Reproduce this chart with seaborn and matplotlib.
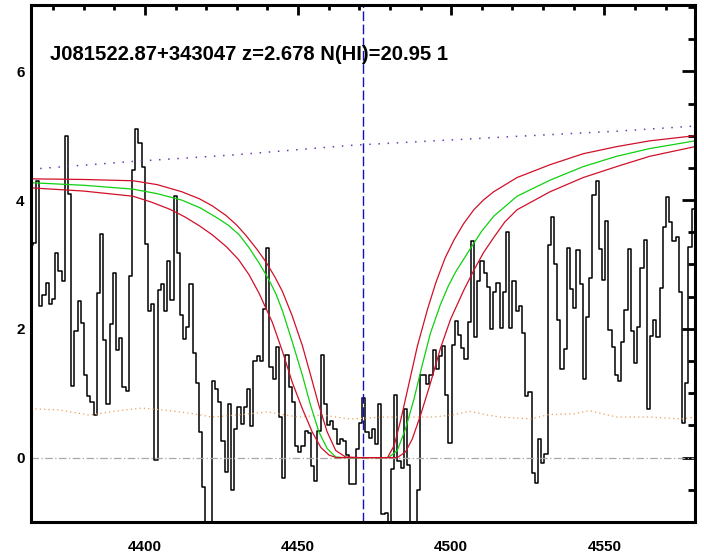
import numpy as np
import seaborn as sns
import matplotlib.pyplot as plt
from matplotlib.ticker import MultipleLocator

flux = [3.30, 3.33, 4.29, 2.35, 2.53, 2.71, 2.38, 2.47, 3.18, 2.90,
        2.75, 5.00, 4.10, 1.11, 1.96, 2.43, 2.09, 1.29, 0.96, 0.86,
        0.66, 2.56, 3.48, 1.82, 0.84, 2.07, 2.87, 1.67, 1.86, 1.09,
        1.03, 2.82, 4.47, 5.10, 4.89, 4.51, 3.32, 2.28, 2.39, -0.04,
        2.61, 2.70, 2.28, 3.06, 2.45, 4.07, 3.18, 2.22, 1.85, 2.03,
        2.69, 1.62, 1.16, 0.40, -0.46, -1.30, -1.20, 1.19, 1.07, 0.86,
        0.26, -0.23, 0.83, -0.51, 0.45, 0.78, 0.52, 0.78, 1.07, 0.49,
        1.50, 1.58, 1.50, 2.31, 3.26, 1.40, 1.22, 1.72, 0.63, -0.31,
        1.60, 1.09, 0.86, 0.18, 0.08, 0.18, 0.41, 0.39, -0.13, -0.36,
        0.41, 1.60, 0.83, 0.50, 0.57, 0.45, 0.21, 0.29, 0.26, 0.04,
        -0.41, -0.41, 0.13, 0.54, 0.92, 0.40, 0.30, 0.45, 0.21, 0.83,
        -0.87, -0.86, -1.30, -0.18, 0.97, -0.05, -0.16, 0.76, -0.12, -1.30,
        -1.30, -0.50, 1.28, 1.28, 1.14, 1.28, 1.67, 1.38, 1.58, 1.73,
        0.98, 0.23, 1.75, 2.12, 1.90, 1.71, 1.53, 2.11, 3.36, 1.88,
        2.74, 3.06, 2.87, 2.65, 2.00, 2.57, 2.71, 2.02, 2.58, 3.50,
        2.02, 2.75, 2.27, 2.36, 1.93, 0.95, 1.02, -0.24, -0.39, 0.29,
        -0.09, 0.05, 3.30, 3.74, 3.01, 2.13, 1.37, 1.68, 3.25, 2.62,
        2.32, 3.22, 2.69, 1.22, 2.19, 2.79, 4.08, 4.29, 3.24, 2.76,
        3.68, 1.98, 1.72, 1.29, 1.19, 1.80, 2.30, 3.24, 1.96, 1.47,
        2.03, 2.95, 3.38, 0.75, 1.89, 2.13, 1.88, 2.64, 3.58, 4.05,
        3.66, 3.37, 3.43, 2.57, 0.53, 1.16, 3.27, 3.86, 3.95]
pix_start = 4362.35   # left edge of the first pixel
pix_step = 1.044      # pixel width in Angstrom
wave = pix_start + pix_step * (np.arange(len(flux)) + 0.5)

# continuum (dotted)
cont_x = [4362.8, 4396.0, 4428.6, 4467.2, 4521.5, 4554.0, 4579.6]
cont_y = [4.48, 4.60, 4.70, 4.85, 4.99, 5.07, 5.15]

# error array (orange dotted)
err_x = [4362.8, 4372, 4382, 4390, 4399, 4408, 4416, 4422, 4432, 4440, 4450,
         4458, 4467, 4478, 4494, 4500, 4506, 4512, 4516, 4526, 4532, 4540,
         4545, 4554, 4565, 4575, 4579.6]
err_y = [0.76, 0.74, 0.66, 0.72, 0.77, 0.73, 0.68, 0.63, 0.67, 0.71, 0.63,
         0.66, 0.60, 0.63, 0.63, 0.66, 0.72, 0.66, 0.63, 0.60, 0.67, 0.68,
         0.73, 0.63, 0.63, 0.60, 0.63]

# best fit Voigt profile (green)
fit_x = [4362.8, 4380, 4396.1, 4404, 4412, 4418, 4423.7, 4427.5, 4430.8,
         4434, 4437.3, 4440.5, 4442.8, 4444.9, 4448.1, 4451.4, 4454.1, 4456.8,
         4459.5, 4462.3, 4465, 4470, 4475, 4479.5, 4482.4, 4485.1, 4487.8,
         4490.5, 4493.2, 4496.5, 4499, 4501.4, 4506.3, 4510, 4513.9, 4521.5,
         4532.3, 4543.1, 4554.0, 4564.8, 4579.6]
fit_y = [4.27, 4.23, 4.17, 4.10, 4.00, 3.88, 3.72, 3.60, 3.46,
         3.26, 3.02, 2.76, 2.54, 2.28, 1.80, 1.28, 0.81, 0.40,
         0.14, 0.01, 0.0, 0.0, 0.0, 0.0, 0.11, 0.45, 0.90,
         1.43, 1.93, 2.38, 2.66, 2.88, 3.25, 3.52, 3.75, 4.06,
         4.31, 4.52, 4.68, 4.80, 4.92]

# +/- 1 sigma profiles (red)
hi_x = [4362.8, 4380, 4396.1, 4404, 4412, 4417.8, 4422, 4426.5, 4430, 4433.0,
        4436.5, 4439.5, 4442.5, 4444.9, 4448.1, 4451.4, 4454.1, 4456.8, 4459.5,
        4462.3, 4465.5, 4470, 4475, 4479.2, 4481.4, 4483.6, 4486.3, 4489.0,
        4492.3, 4495.0, 4498, 4500.9, 4504, 4507.4, 4510.5, 4513.9, 4521.5,
        4532.3, 4543.1, 4554.0, 4564.8, 4579.6]
hi_y = [4.33, 4.32, 4.30, 4.24, 4.13, 4.02, 3.91, 3.76, 3.61, 3.45,
        3.24, 3.04, 2.80, 2.58, 2.20, 1.74, 1.28, 0.81, 0.40,
        0.11, 0.01, 0.0, 0.0, 0.0, 0.19, 0.60, 1.17, 1.74,
        2.31, 2.72, 3.10, 3.38, 3.63, 3.85, 4.00, 4.13, 4.35,
        4.55, 4.72, 4.83, 4.92, 5.00]
lo_x = [4362.8, 4380, 4396.1, 4402, 4408.0, 4413, 4417.8, 4422, 4426.5, 4430.5,
        4434.0, 4437.3, 4441.6, 4444.9, 4448.1, 4451.4, 4454.6, 4457.4, 4460.1,
        4462.5, 4470, 4478, 4482.4, 4485.1, 4487.3, 4490.0, 4493.3, 4496.5,
        4499.8, 4504.1, 4507.5, 4510.5, 4513.9, 4517.5, 4521.5, 4532.3, 4543.1,
        4554.0, 4564.8, 4579.6]
lo_y = [4.19, 4.14, 4.06, 3.97, 3.86, 3.74, 3.60, 3.46, 3.28, 3.08,
        2.84, 2.55, 2.10, 1.65, 1.17, 0.76, 0.40, 0.16, 0.04,
        0.0, 0.0, 0.0, 0.0, 0.09, 0.29, 0.66, 1.17, 1.70,
        2.15, 2.60, 2.92, 3.18, 3.42, 3.66, 3.85, 4.13, 4.35,
        4.52, 4.68, 4.83]

z_abs = 2.678
lya = 1215.67 * (1 + z_abs)
title = "J081522.87+343047 z=2.678 N(HI)=20.95 1"

sns.set_style("white")
plt.rcParams['font.family'] = ['Liberation Sans', 'DejaVu Sans']
plt.rcParams['font.weight'] = 'bold'
plt.rcParams['text.color'] = 'black'

fig = plt.figure(figsize=(7.04, 5.56), dpi=100)
ax = fig.add_axes([31 / 704, 1 - 522 / 556, 664 / 704, 517 / 556])

sns.lineplot(x=wave, y=flux, ax=ax, color='black', lw=1.1,
             drawstyle='steps-mid', estimator=None, errorbar=None)
sns.lineplot(x=cont_x, y=cont_y, ax=ax, color='#6a3cb0', lw=1.1,
             linestyle=(0, (1, 5)), estimator=None, errorbar=None)
sns.lineplot(x=err_x, y=err_y, ax=ax, color='#e8a060', lw=0.9,
             linestyle=(0, (1, 2.5)), estimator=None, errorbar=None)
ax.axhline(0, color='#a8a8a8', lw=0.9, linestyle=(0, (6, 2, 1, 2)))
sns.lineplot(x=fit_x, y=fit_y, ax=ax, color='#10d010', lw=0.9,
             estimator=None, errorbar=None)
sns.lineplot(x=hi_x, y=hi_y, ax=ax, color='#d0102a', lw=0.9,
             estimator=None, errorbar=None)
sns.lineplot(x=lo_x, y=lo_y, ax=ax, color='#d0102a', lw=0.9,
             estimator=None, errorbar=None)
ax.axvline(lya, color='#1010c0', lw=1.0, linestyle=(0, (7, 2.5)))

ax.text(0.0286, 0.894, title, transform=ax.transAxes, fontsize=14.6,
        fontweight='bold', va='baseline', ha='left', color='black')

ax.set_xlim(4362.8, 4579.6)
ax.set_ylim(-1.0, 7.03)
ax.xaxis.set_major_locator(MultipleLocator(50))
ax.xaxis.set_minor_locator(MultipleLocator(10))
ax.yaxis.set_major_locator(MultipleLocator(2))
ax.yaxis.set_minor_locator(MultipleLocator(0.5))

for s in ax.spines.values():
    s.set_linewidth(2.2)
    s.set_color('black')
ax.tick_params(which='both', direction='in', top=True, right=True,
               width=2.0, colors='black', labelcolor='black', labelsize=11)
ax.tick_params(axis='x', which='major', length=7.5, pad=13)
ax.tick_params(axis='x', which='minor', length=3.8)
ax.tick_params(axis='y', which='major', length=9.5, pad=4.5)
ax.tick_params(axis='y', which='minor', length=5)
for lab in ax.get_xticklabels() + ax.get_yticklabels():
    lab.set_fontweight('bold')
ax.set_xlabel('')
ax.set_ylabel('')

fig.savefig('out.png', dpi=100)
